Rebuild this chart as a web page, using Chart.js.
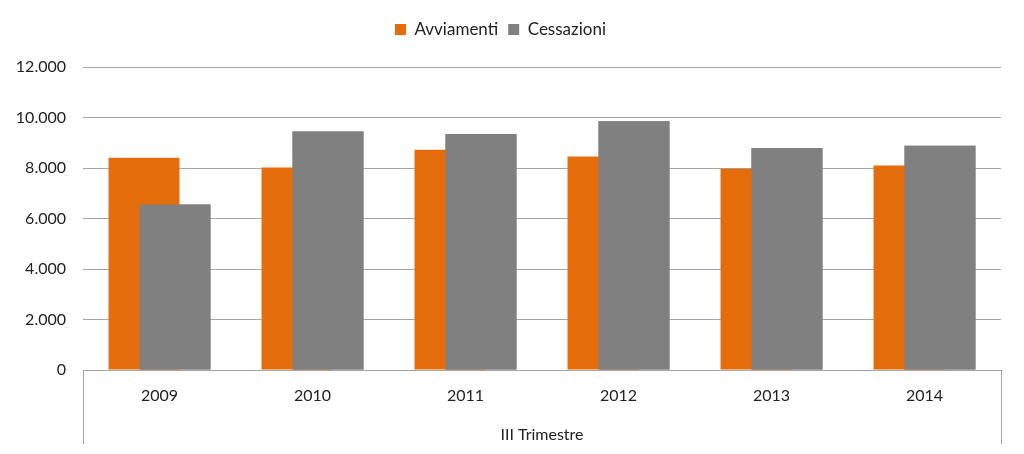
<!DOCTYPE html>
<html>
<head>
<meta charset="utf-8">
<script src="https://cdn.jsdelivr.net/npm/chart.js@4"></script>
<style>
  html, body { margin: 0; padding: 0; background: #ffffff; }
  #wrap { width: 1024px; height: 454px; }
</style>
</head>
<body>
<div id="wrap"><canvas id="c" width="1024" height="454"></canvas></div>
<script>
const categories = ['2009', '2010', '2011', '2012', '2013', '2014'];
const avviamenti = [8410, 8020, 8720, 8460, 7970, 8100];
const cessazioni = [6550, 9450, 9350, 9850, 8790, 8880];
const seriesNames = ['Avviamenti', 'Cessazioni'];
const axisTitle = 'III Trimestre';
const yMax = 12000;
const yStep = 2000;

function fmtIt(v) {
  return String(v).replace(/\B(?=(\d{3})+(?!\d))/g, '.');
}

const greyOnTop = {
  id: 'greyOnTop',
  afterDatasetsDraw(chart) {
    const meta = chart.getDatasetMeta(1);
    if (meta && meta.visible !== false) {
      const ctx = chart.ctx;
      ctx.save();
      meta.controller.draw();
      ctx.restore();
    }
  }
};

const legendGap = {
  id: 'legendGap',
  beforeInit(chart) {
    const lg = chart.legend;
    if (!lg) return;
    const origFit = lg.fit;
    lg.fit = function () {
      origFit.call(this);
      this.height += 19;
    };
  }
};

Chart.defaults.font.family = 'Lato, "Noto Sans", sans-serif';
Chart.defaults.font.size = 16;
Chart.defaults.color = '#222222';

new Chart(document.getElementById('c'), {
  type: 'bar',
  data: {
    labels: categories,
    datasets: [
      {
        label: seriesNames[0],
        data: avviamenti,
        backgroundColor: '#E46C0A',
        categoryPercentage: 0.405,
        barPercentage: 2.29
      },
      {
        label: seriesNames[1],
        data: cessazioni,
        backgroundColor: '#808080',
        categoryPercentage: 0.405,
        barPercentage: 2.29
      }
    ]
  },
  options: {
    responsive: false,
    animation: false,
    layout: { padding: { left: 0, right: 23, top: 11, bottom: 10 } },
    plugins: {
      legend: {
        position: 'top',
        labels: { boxWidth: 11, boxHeight: 11, padding: 10, font: { size: 17 } }
      },
      tooltip: { enabled: false }
    },
    scales: {
      y: {
        min: 0,
        max: yMax,
        ticks: {
          stepSize: yStep,
          padding: 17,
          callback: (v) => fmtIt(v)
        },
        grid: { color: '#A6A6A6', drawTicks: false },
        border: { display: false },
        afterFit: (axis) => { axis.width = 83; }
      },
      x: {
        grid: {
          drawOnChartArea: false,
          drawTicks: true,
          tickLength: 74,
          color: (ctx) => (ctx.type === 'scale' || ctx.index === 0) ? '#A6A6A6' : 'rgba(0,0,0,0)'
        },
        border: { display: true, color: '#A6A6A6' },
        ticks: { padding: -58, maxRotation: 0 },
        title: { display: true, text: axisTitle, padding: 0, font: { size: 16 } },
        afterFit: (axis) => { axis.height = 74; }
      }
    }
  },
  plugins: [greyOnTop, legendGap]
});
</script>
</body>
</html>
